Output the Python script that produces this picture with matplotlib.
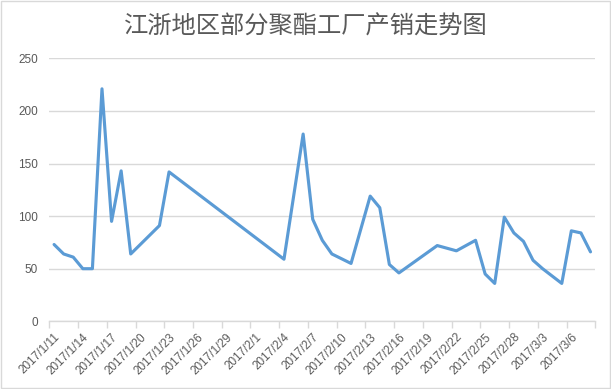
import numpy as np
import pandas as pd
import matplotlib
matplotlib.use('Agg')
import matplotlib.pyplot as plt
from matplotlib.patches import Rectangle

# 产销率数据
dates = ['2017-01-11', '2017-01-12', '2017-01-13', '2017-01-14', '2017-01-15',
         '2017-01-16', '2017-01-17', '2017-01-18', '2017-01-19', '2017-01-22',
         '2017-01-23', '2017-02-04', '2017-02-06', '2017-02-07', '2017-02-08',
         '2017-02-09', '2017-02-11', '2017-02-13', '2017-02-14', '2017-02-15',
         '2017-02-16', '2017-02-20', '2017-02-22', '2017-02-24', '2017-02-25',
         '2017-02-26', '2017-02-27', '2017-02-28', '2017-03-01', '2017-03-02',
         '2017-03-03', '2017-03-04', '2017-03-05', '2017-03-06', '2017-03-07',
         '2017-03-08']
values = [73, 64, 61, 50, 50,
          221, 95, 143, 64, 91,
          142, 59, 178, 97, 77,
          64, 55, 119, 108, 54,
          46, 72, 67, 77, 45,
          36, 99, 84, 76, 58,
          50, 43, 36, 86, 84,
          66]
y_ticks = [0, 50, 100, 150, 200, 250]

start = pd.Timestamp('2017-01-11')
end = pd.Timestamp('2017-03-08')
days = [(pd.Timestamp(d) - start).days for d in dates]
n_days = (end - start).days
label_days = list(range(0, n_days + 1, 3))
labels = []
for d in label_days:
    t = start + pd.Timedelta(days=d)
    labels.append('{}/{}/{}'.format(t.year, t.month, t.day))

grey = '#595959'
grid = '#d9d9d9'

fig = plt.figure(figsize=(6.11, 3.89), dpi=100)
ax = fig.add_axes([49.3 / 611, 1 - 321.3 / 389, 546 / 611, 263 / 389])

ax.plot(days, values, color='#5b9bd5', linewidth=2.25, solid_joinstyle='round',
        solid_capstyle='round', zorder=3)

ax.set_xlim(-0.5, n_days + 0.5)
ax.set_ylim(0, 250)
ax.set_yticks(y_ticks)
ax.set_yticklabels([str(v) for v in y_ticks], fontsize=8.5, color=grey,
                   family='Liberation Sans')
ax.yaxis.grid(True, color=grid, linewidth=1)
ax.set_axisbelow(True)
ax.tick_params(axis='y', length=0, pad=8)

ax.set_xticks(label_days)
ax.set_xticklabels(labels, rotation=45, ha='right', rotation_mode='anchor',
                   fontsize=8.5, color=grey, family='Liberation Sans')
ax.tick_params(axis='x', which='major', length=0, pad=7)
ax.set_xticks(np.arange(-0.5, n_days + 1, 3), minor=True)
ax.tick_params(axis='x', which='minor', length=5, width=1, color=grid,
               direction='out')

for s in ['top', 'right', 'left']:
    ax.spines[s].set_visible(False)
ax.spines['bottom'].set_color(grid)
ax.spines['bottom'].set_linewidth(1)

fig.text(0.5, 1 - 27 / 389, '江浙地区部分聚酯工厂产销走势图', ha='center', va='center',
         fontsize=17.5, color=grey, family=['Noto Sans CJK SC', 'DejaVu Sans'])

fig.patches.append(Rectangle((0.001, 0.002), 0.997, 0.995, transform=fig.transFigure,
                             fill=False, edgecolor=grid, linewidth=1))

fig.savefig('out.png', dpi=100, facecolor='white')
